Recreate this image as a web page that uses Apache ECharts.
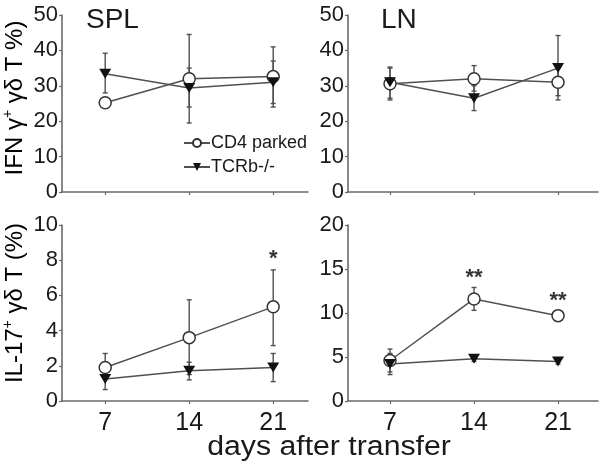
<!DOCTYPE html>
<html>
<head>
<meta charset="utf-8">
<script src="https://cdn.jsdelivr.net/npm/echarts@6/dist/echarts.min.js"></script>
<style>
html,body{margin:0;padding:0;background:#fff;}
#chart{width:601px;height:466px;}
</style>
</head>
<body>
<div id="chart"></div>
<script>
// ---- data ----
const days = [7, 14, 21];
const seriesNames = ['CD4 parked', 'TCRb-/-'];
// IFN gamma+ (SPL)
const splIfnParked = [25.2, 32.0, 32.6];
const splIfnParkedLow = [24.2, 19.5, 24.0];
const splIfnParkedHigh = [26.2, 44.5, 41.0];
const splIfnKO = [33.4, 29.4, 31.0];
const splIfnKOLow = [28.0, 24.0, 25.0];
const splIfnKOHigh = [39.2, 35.0, 37.0];
// IFN gamma+ (LN)
const lnIfnParked = [30.6, 32.0, 31.0];
const lnIfnParkedLow = [26.0, 28.5, 26.0];
const lnIfnParkedHigh = [35.3, 35.7, 35.0];
const lnIfnKO = [31.0, 26.5, 35.0];
const lnIfnKOLow = [26.5, 23.0, 27.2];
const lnIfnKOHigh = [35.0, 30.0, 44.2];
// IL-17+ (SPL)
const splIl17Parked = [1.9, 3.6, 5.35];
const splIl17ParkedLow = [1.3, 1.5, 3.15];
const splIl17ParkedHigh = [2.7, 5.75, 7.45];
const splIl17KO = [1.25, 1.72, 1.9];
const splIl17KOLow = [0.65, 1.2, 1.1];
const splIl17KOHigh = [1.8, 2.2, 2.7];
// IL-17+ (LN)
const lnIl17Parked = [4.6, 11.6, 9.7];
const lnIl17ParkedLow = [3.3, 10.3, 9.3];
const lnIl17ParkedHigh = [5.9, 12.9, 10.1];
const lnIl17KO = [4.2, 4.8, 4.5];
const lnIl17KOLow = [3.0, 4.5, 4.2];
const lnIl17KOHigh = [5.4, 5.1, 4.8];
// significance marks
const sigSplDays = [21];
const sigSplY = [8.1];
const sigSplText = ['*'];
const sigLnDays = [14, 21];
const sigLnY = [14.0, 11.4];
const sigLnText = ['**', '**'];
// axis ticks
const yTicksIfn = {min: 0, max: 50, interval: 10};
const yTicksSplIl17 = {min: 0, max: 10, interval: 2};
const yTicksLnIl17 = {min: 0, max: 20, interval: 5};
const panelTitles = ['SPL', 'LN'];
const xTitle = 'days after transfer';

// ---- styling ----
const FONT = 'Liberation Sans, Arial, sans-serif';
const AX = '#6a6a6a';
const LINE = '#505050';
const TXT = '#1a1a1a';

const grids = [
  {left: 62, top: 15, width: 246, height: 177},
  {left: 348, top: 15, width: 250, height: 177},
  {left: 62, top: 225, width: 246, height: 176},
  {left: 348, top: 225, width: 250, height: 176}
];

function xAx(i, showLabels) {
  const left = i % 2 === 0;
  return {
    type: 'value', gridIndex: i,
    min: left ? 3.4 : 3.5, max: left ? 23.9 : 24.33,
    axisLine: {show: true, lineStyle: {color: AX, width: 1.6}},
    axisTick: {show: true, length: 3, customValues: days, lineStyle: {color: AX, width: 1.2}},
    axisLabel: {show: showLabels, customValues: days, fontFamily: FONT, fontSize: 25, color: TXT, margin: 10},
    splitLine: {show: false}
  };
}
function yAx(i, t) {
  return {
    type: 'value', gridIndex: i, min: t.min, max: t.max, interval: t.interval,
    axisLine: {show: true, lineStyle: {color: AX, width: 1.6}},
    axisTick: {show: true, length: 3, lineStyle: {color: AX, width: 1.2}},
    axisLabel: {fontFamily: FONT, fontSize: 22, color: TXT, margin: 4},
    splitLine: {show: false}
  };
}

function errSeries(i, lo, hi) {
  return {
    type: 'custom', xAxisIndex: i, yAxisIndex: i, z: 1,
    data: days.map((d, k) => [d, lo[k], hi[k]]),
    renderItem: function (params, api) {
      const x = api.value(0);
      const a = api.coord([x, api.value(1)]);
      const b = api.coord([x, api.value(2)]);
      const w = 2.5;
      const st = {stroke: LINE, lineWidth: 1.4};
      return {type: 'group', children: [
        {type: 'line', shape: {x1: a[0], y1: a[1], x2: b[0], y2: b[1]}, style: st},
        {type: 'line', shape: {x1: a[0] - w, y1: a[1], x2: a[0] + w, y2: a[1]}, style: st},
        {type: 'line', shape: {x1: b[0] - w, y1: b[1], x2: b[0] + w, y2: b[1]}, style: st}
      ]};
    }
  };
}
function lineSeries(i, name, vals) {
  const parked = name === seriesNames[0];
  return {
    type: 'line', name: name, xAxisIndex: i, yAxisIndex: i, z: 3,
    data: days.map((d, k) => [d, vals[k]]),
    symbol: parked ? 'circle' : 'triangle',
    symbolRotate: parked ? 0 : 180,
    symbolSize: parked ? 12 : [12, 10],
    showSymbol: true,
    lineStyle: {color: LINE, width: 1.5},
    itemStyle: parked ? {color: '#fff', borderColor: '#333', borderWidth: 1.5} : {color: '#111', borderColor: '#111', borderWidth: 0},
    emphasis: {disabled: true},
    animation: false
  };
}
function sigSeries(i, xs, ys, txt) {
  return {
    type: 'scatter', xAxisIndex: i, yAxisIndex: i, z: 4, symbolSize: 0,
    data: xs.map((d, k) => ({value: [d, ys[k]], name: txt[k]})),
    label: {show: true, position: 'inside', formatter: p => p.name, fontFamily: FONT, fontSize: 22, color: '#000', fontWeight: 'bold'},
    silent: true
  };
}

const series = [
  errSeries(0, splIfnParkedLow, splIfnParkedHigh), errSeries(0, splIfnKOLow, splIfnKOHigh),
  lineSeries(0, seriesNames[0], splIfnParked), lineSeries(0, seriesNames[1], splIfnKO),
  errSeries(1, lnIfnParkedLow, lnIfnParkedHigh), errSeries(1, lnIfnKOLow, lnIfnKOHigh),
  lineSeries(1, seriesNames[0], lnIfnParked), lineSeries(1, seriesNames[1], lnIfnKO),
  errSeries(2, splIl17ParkedLow, splIl17ParkedHigh), errSeries(2, splIl17KOLow, splIl17KOHigh),
  lineSeries(2, seriesNames[0], splIl17Parked), lineSeries(2, seriesNames[1], splIl17KO),
  errSeries(3, lnIl17ParkedLow, lnIl17ParkedHigh), errSeries(3, lnIl17KOLow, lnIl17KOHigh),
  lineSeries(3, seriesNames[0], lnIl17Parked), lineSeries(3, seriesNames[1], lnIl17KO),
  sigSeries(2, sigSplDays, sigSplY, sigSplText),
  sigSeries(3, sigLnDays, sigLnY, sigLnText)
];

const richY = {
  n: {fontFamily: FONT, fontSize: 24, color: TXT, lineHeight: 27},
  s: {fontFamily: FONT, fontSize: 14, color: TXT, verticalAlign: 'top', lineHeight: 27, padding: [0, 0, 10, 0]}
};

const option = {
  animation: false,
  backgroundColor: '#fff',
  grid: grids,
  xAxis: [xAx(0, false), xAx(1, false), xAx(2, true), xAx(3, true)],
  yAxis: [yAx(0, yTicksIfn), yAx(1, yTicksIfn), yAx(2, yTicksSplIl17), yAx(3, yTicksLnIl17)],
  legend: {
    data: seriesNames, orient: 'vertical', left: 178, top: 129,
    itemWidth: 26, itemHeight: 10, itemGap: 6,
    textStyle: {fontFamily: FONT, fontSize: 18, color: TXT, padding: [0, 0, 0, -4]},
    selectedMode: false
  },
  graphic: [
    {type: 'text', left: 86, top: 6, style: {text: panelTitles[0], font: '28px ' + FONT, fill: TXT}},
    {type: 'text', left: 381, top: 6, style: {text: panelTitles[1], font: '28px ' + FONT, fill: TXT}},
    {type: 'text', x: 329, y: 448, scaleX: 1.12, style: {text: xTitle, font: '27px ' + FONT, fill: TXT, align: 'center', verticalAlign: 'middle'}},
    {type: 'text', x: 15, y: 98, rotation: Math.PI / 2,
      style: {text: '{n|IFN γ}{s|+}{n| γδ T %)}', rich: richY, align: 'center', verticalAlign: 'middle'}},
    {type: 'text', x: 15, y: 303, rotation: Math.PI / 2,
      style: {text: '{n|IL-17}{s|+}{n| γδ T (%)}', rich: richY, align: 'center', verticalAlign: 'middle'}}
  ],
  series: series
};

const chart = echarts.init(document.getElementById('chart'), null, {renderer: 'canvas'});
chart.setOption(option);
</script>
</body>
</html>
